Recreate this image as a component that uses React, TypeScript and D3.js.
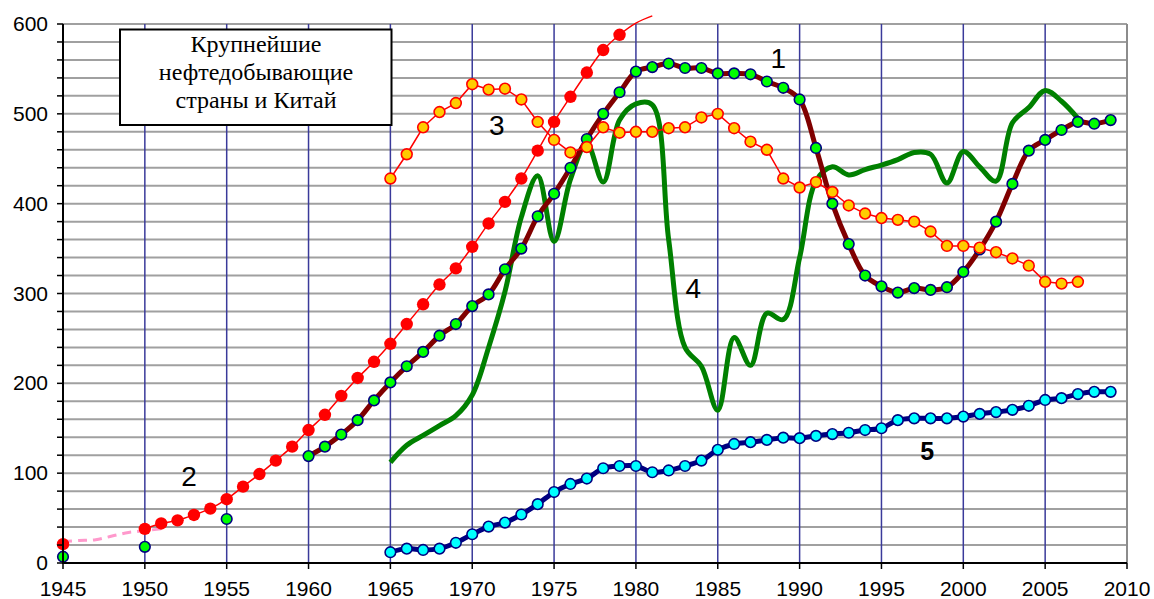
import React from 'react';
import * as d3 from 'd3';

// chart values (million tonnes per year)
const s1EarlyYears = [1945, 1950, 1955];
const s1EarlyValues = [7, 18, 49];
const s1Years = d3.range(1960, 2010);
const s1Values = [
  119, 129.5, 143, 159, 181, 201, 219, 235, 253, 266,
  286, 299, 327, 350, 386, 411, 440, 472, 500, 524,
  547, 552, 556, 551, 551, 545, 545, 544, 536, 529,
  516, 462, 400, 355, 320, 308, 301, 306, 304, 307,
  324, 349, 380, 422, 459, 471, 482, 491, 489, 493,
];

const s2Years = [1945].concat(d3.range(1950, 1982));
const s2Values = [
  21,
  38, 44, 47.5, 53.5, 60.5, 71, 85, 99, 114, 129.5,
  148, 165, 186, 206, 224, 244, 266, 288, 310, 328,
  352, 378, 402, 428, 459, 491, 519, 546, 571, 588,
  601, 609,
];
const pinkYears = [1945, 1946, 1947, 1948, 1949, 1950, 1951];
const pinkValues = [24, 25, 26, 30, 34, 36, 38];

const s3Years = d3.range(1965, 2008);
const s3Values = [
  428, 455, 485, 502, 512, 533, 527, 528, 516, 491,
  471, 457, 463, 485, 479, 480, 480, 484, 485, 496,
  500, 484, 469, 460, 428, 418, 424, 413, 398, 389,
  384, 382, 380, 369, 353, 353, 351, 346, 339, 331,
  313, 311, 313,
];

const s4Years = d3.range(1965, 2008);
const s4Values = [
  112, 131, 142, 153, 164, 187, 240, 302, 385, 431,
  358, 427, 467, 424, 493, 511, 510, 360, 240, 219,
  170, 251, 220, 278, 271, 340, 425, 441, 432, 438,
  443, 449, 457, 455, 423, 458, 441, 425, 490, 507,
  526, 514, 495,
];

const s5Years = d3.range(1965, 2010);
const s5Values = [
  12, 16, 14.5, 16, 22.5, 32, 40.5, 45, 54, 65.5,
  79, 88, 94, 105.5, 108, 108, 101, 103, 108, 114,
  126, 132.5, 134.5, 137, 139.5, 139, 141.5, 143.5, 145, 148,
  150, 159, 161, 161, 161, 163, 166, 168, 170.5, 175,
  181.5, 183.5, 188, 190.5, 190.5,
];

const xTicks = d3.range(1945, 2011, 5);
const yMajor = [0, 100, 200, 300, 400, 500, 600];
const yMinor = d3.range(0, 601, 20);
const titleLines = ['Крупнейшие', 'нефтедобывающие', 'страны и Китай'];
const seriesLabels = [
  { text: '1', year: 1988.7, value: 551, bold: false },
  { text: '2', year: 1952.7, value: 86, bold: false },
  { text: '3', year: 1971.5, value: 476, bold: false },
  { text: '4', year: 1983.5, value: 295, bold: false },
  { text: '5', year: 1997.8, value: 115, bold: true },
];

type Pt = { year: number; value: number };

function zip(years: number[], values: number[]): Pt[] {
  return years.map((year, i) => ({ year, value: values[i] }));
}

// split into runs of consecutive years so gaps are not joined
function runs(pts: Pt[]): Pt[][] {
  const out: Pt[][] = [];
  pts.forEach((p, i) => {
    if (i === 0 || p.year - pts[i - 1].year !== 1) out.push([p]);
    else out[out.length - 1].push(p);
  });
  return out.filter((r) => r.length > 1);
}

export default function App() {
  const width = 1154;
  const height = 599;
  const margin = { top: 24, right: 27, bottom: 36, left: 63 };

  const x = d3.scaleLinear().domain([1945, 2010]).range([margin.left, width - margin.right]);
  const y = d3.scaleLinear().domain([0, 600]).range([height - margin.bottom, margin.top]);

  const smooth = d3.line<Pt>().x((d) => x(d.year)).y((d) => y(d.value)).curve(d3.curveCatmullRom.alpha(0.5));
  const straight = d3.line<Pt>().x((d) => x(d.year)).y((d) => y(d.value));

  const s1 = zip(s1Years, s1Values);
  const s1Early = zip(s1EarlyYears, s1EarlyValues);
  const s2 = zip(s2Years, s2Values);
  const pink = zip(pinkYears, pinkValues);
  const s3 = zip(s3Years, s3Values);
  const s4 = zip(s4Years, s4Values);
  const s5 = zip(s5Years, s5Values);

  const font = 'Arial, "Liberation Sans", sans-serif';
  const [x0, x1] = x.range();
  const [yb, yt] = y.range();

  return (
    <svg width={width} height={height} style={{ position: 'absolute', left: 0, top: 0, background: '#fff' }}>
      {/* horizontal grid */}
      {yMinor.filter((v) => v > 0).map((v) => (
        <line key={'h' + v} x1={x0} x2={x1} y1={y(v)} y2={y(v)} stroke="#a0a0a0" strokeWidth={2} />
      ))}
      <line x1={x1} x2={x1} y1={yt} y2={yb} stroke="#8c8c8c" strokeWidth={2} />
      {/* vertical grid */}
      {xTicks.filter((t) => t > 1945 && t < 2010).map((t) => (
        <line key={'v' + t} x1={x(t)} x2={x(t)} y1={yt} y2={yb} stroke="#3a3a9a" strokeWidth={1.5} />
      ))}

      {/* title box */}
      <rect x={120} y={29.5} width={271.5} height={95.5} fill="#fff" stroke="#000" strokeWidth={2} />
      {titleLines.map((t, i) => (
        <text key={t} x={256} y={52 + i * 28} textAnchor="middle" fontFamily='"Times New Roman", "Liberation Serif", serif' fontSize={24}>
          {t}
        </text>
      ))}

      {/* series 4: green, no markers */}
      <path d={smooth(s4) || ''} fill="none" stroke="#008000" strokeWidth={5} strokeLinejoin="round" />

      {/* series 5 */}
      <path d={smooth(s5) || ''} fill="none" stroke="#000080" strokeWidth={5} />
      {s5.map((d) => (
        <circle key={'c5' + d.year} cx={x(d.year)} cy={y(d.value)} r={5.3} fill="#00ffff" stroke="#000080" strokeWidth={1.6} />
      ))}

      {/* series 1 */}
      {runs(s1).map((r, i) => (
        <path key={'p1' + i} d={smooth(r) || ''} fill="none" stroke="#800000" strokeWidth={5} />
      ))}
      {s1Early.concat(s1).map((d) => (
        <circle key={'c1' + d.year} cx={x(d.year)} cy={y(d.value)} r={5.3} fill="#00ff00" stroke="#000080" strokeWidth={1.6} />
      ))}

      {/* series 2 */}
      <path d={smooth(pink) || ''} fill="none" stroke="#ff99cc" strokeWidth={3} strokeDasharray="9,6" />
      {runs(s2).map((r, i) => (
        <path key={'p2' + i} d={smooth(r) || ''} fill="none" stroke="#ff0000" strokeWidth={1.5} />
      ))}
      {s2.filter((d) => d.value <= 600).map((d) => (
        <circle key={'c2' + d.year} cx={x(d.year)} cy={y(d.value)} r={6.2} fill="#ff0000" />
      ))}

      {/* series 3 */}
      <path d={straight(s3) || ''} fill="none" stroke="#ff0000" strokeWidth={1.5} />
      {s3.map((d) => (
        <circle key={'c3' + d.year} cx={x(d.year)} cy={y(d.value)} r={5.4} fill="#ffcc00" stroke="#ff0000" strokeWidth={1.6} />
      ))}

      {/* series numbers */}
      {seriesLabels.map((l) => (
        <text key={l.text} x={x(l.year)} y={y(l.value)} textAnchor="middle" fontFamily={font} fontSize={l.bold ? 25 : 28} fontWeight={l.bold ? 'bold' : 'normal'}>
          {l.text}
        </text>
      ))}

      {/* axes */}
      <line x1={x0} x2={x0} y1={yt} y2={yb} stroke="#000" strokeWidth={2} />
      {yMinor.map((v) => (
        <line key={'yt' + v} x1={x0 - 6} x2={x0} y1={y(v)} y2={y(v)} stroke="#000" strokeWidth={1.5} />
      ))}
      {yMajor.map((v) => (
        <text key={'yl' + v} x={x0 - 15} y={y(v) + 7} textAnchor="end" fontFamily={font} fontSize={21}>
          {v}
        </text>
      ))}
      <line x1={x0 - 1} x2={x1} y1={yb} y2={yb} stroke="#000" strokeWidth={2} />
      {xTicks.map((t) => (
        <line key={'xt' + t} x1={x(t)} x2={x(t)} y1={yb} y2={yb + 6} stroke="#000" strokeWidth={1.5} />
      ))}
      {xTicks.map((t) => (
        <text key={'xl' + t} x={x(t)} y={yb + 33} textAnchor="middle" fontFamily={font} fontSize={21}>
          {t}
        </text>
      ))}
    </svg>
  );
}
